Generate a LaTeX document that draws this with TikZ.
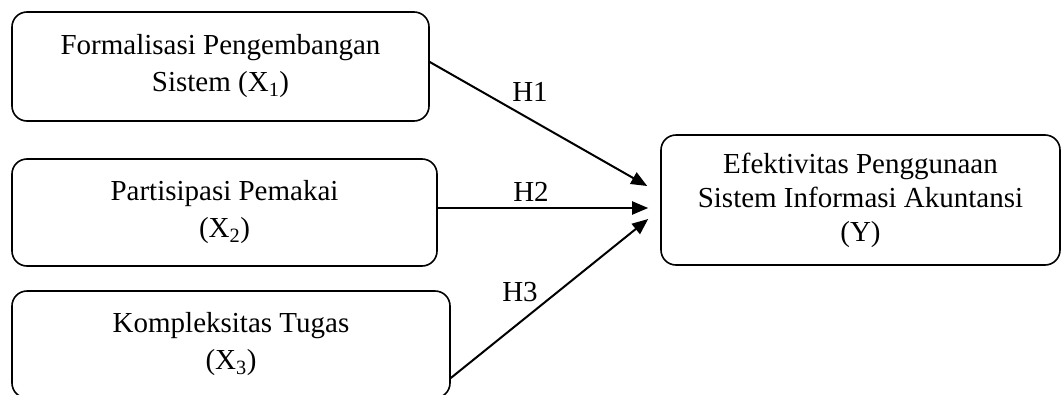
\documentclass[tikz,border=0pt]{standalone}
\usepackage{fontspec}
\setmainfont{Liberation Serif}
\usetikzlibrary{arrows.meta}
\begin{document}
\begin{tikzpicture}[x=1pt,y=-1pt,
  box/.style={draw, line width=1.6pt, rounded corners=15pt, align=center, inner sep=0pt,
    font=\fontsize{29}{37}\selectfont},
  link/.style={line width=2pt, -{Triangle[length=16pt,width=13pt]}},
  lab/.style={font=\fontsize{29}{34}\selectfont, inner sep=0pt}]
\useasboundingbox (0,0) rectangle (1061,394);
\begin{scope}
\clip (0,0) rectangle (1061,394);
\node[box, minimum width=417pt, minimum height=109pt] (b1) at (220.5,66.5)
  {Formalisasi Pengembangan\\Sistem (X\textsubscript{1})};
\node[box, minimum width=425pt, minimum height=107pt] (b2) at (224.5,212.5)
  {Partisipasi Pemakai\\(X\textsubscript{2})};
\node[box, minimum width=438pt, minimum height=107pt] (b3) at (231,344.5)
  {Kompleksitas Tugas\\(X\textsubscript{3})};
\node[box, minimum width=399pt, minimum height=130pt, font=\fontsize{29}{34}\selectfont] (y) at (860.5,200)
  {Efektivitas Penggunaan\\Sistem Informasi Akuntansi\\(Y)};
\end{scope}
\draw[link] ([yshift=4.5pt]b1.east) -- ([xshift=-13pt,yshift=14pt]y.west);
\draw[link] ([yshift=4.5pt]b2.east) -- ([xshift=-12pt,yshift=-8pt]y.west);
\draw[link] ([yshift=-33.5pt]b3.east) -- ([xshift=-12pt,yshift=-19pt]y.west);
\node[lab] (h1) at (530,92) {H1};
\node[lab] (h2) at (531,192) {H2};
\node[lab] (h3) at (520,292) {H3};
\end{tikzpicture}
\end{document}
